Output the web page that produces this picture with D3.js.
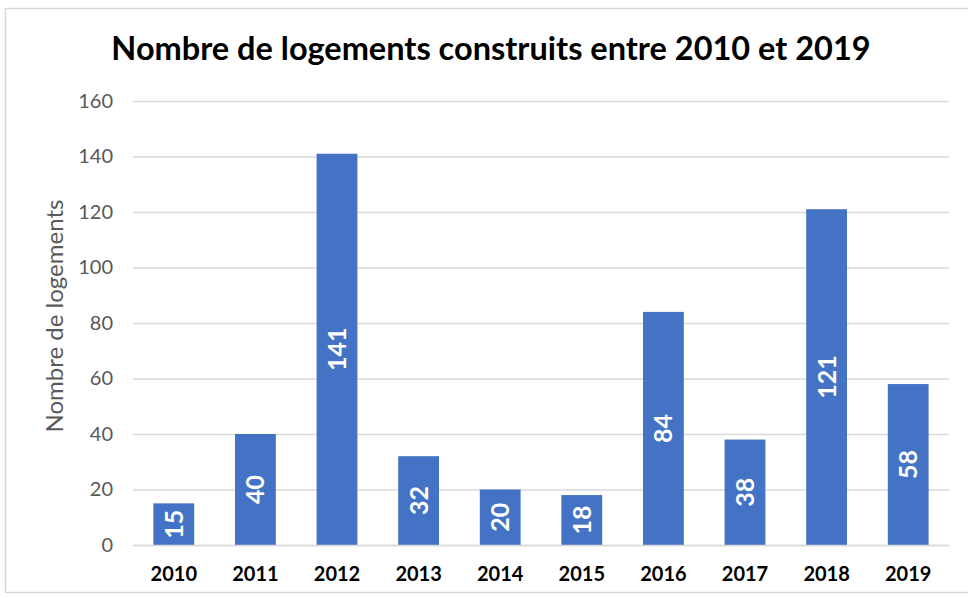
<!DOCTYPE html>
<html>
<head>
<meta charset="utf-8">
<script src="https://cdn.jsdelivr.net/npm/d3@7"></script>
<style>
  body { margin: 0; background: #fff; }
  svg { display: block; }
  svg text { font-family: Lato, "Open Sans", sans-serif; }
</style>
</head>
<body>
<svg id="chart"></svg>
<script>
// données
var years = ["2010", "2011", "2012", "2013", "2014", "2015", "2016", "2017", "2018", "2019"];
var logements = [15, 40, 141, 32, 20, 18, 84, 38, 121, 58];
var yTicks = [0, 20, 40, 60, 80, 100, 120, 140, 160];

var titre = "Nombre de logements construits entre 2010 et 2019";
var axeY = "Nombre de logements";

var width = 968, height = 598;
var margin = {top: 101, right: 19, bottom: 53, left: 133};

var svg = d3.select("#chart")
    .attr("width", width)
    .attr("height", height);

// cadre gris clair
svg.append("rect")
    .attr("x", 5.5).attr("y", 8.5)
    .attr("width", width + 10).attr("height", 584)
    .attr("fill", "none")
    .attr("stroke", "#d9d9d9")
    .attr("stroke-width", 1.5);

var data = years.map(function(y, i){ return {annee: y, valeur: logements[i]}; });

var x = d3.scaleBand()
    .domain(years)
    .range([margin.left, width - margin.right])
    .paddingInner(0.5)
    .paddingOuter(0.25);

var y = d3.scaleLinear()
    .domain([0, 160])
    .range([height - margin.bottom, margin.top]);

// grille
var yAxis = d3.axisLeft(y)
    .tickValues(yTicks)
    .tickSize(-(width - margin.left - margin.right))
    .tickPadding(20);

var gy = svg.append("g")
    .attr("transform", "translate(" + margin.left + ",0)")
    .call(yAxis)
    .attr("font-family", null);
gy.select(".domain").remove();
gy.selectAll(".tick line").attr("stroke", "#d9d9d9").attr("stroke-width", 1.5);
gy.selectAll(".tick text")
    .attr("fill", "#595959")
    .style("font-size", "20px");

// barres
svg.append("g").selectAll("rect")
    .data(data)
    .enter()
    .append("rect")
    .attr("x", function(d){ return x(d.annee); })
    .attr("y", function(d){ return y(d.valeur); })
    .attr("width", x.bandwidth())
    .attr("height", function(d){ return y(0) - y(d.valeur); })
    .attr("fill", "#4472c4");

// étiquettes de valeurs, tournées
svg.append("g").selectAll("text")
    .data(data)
    .enter()
    .append("text")
    .attr("transform", function(d){
        var cx = x(d.annee) + x.bandwidth() / 2;
        var cy = (y(d.valeur) + y(0)) / 2;
        return "translate(" + cx + "," + cy + ") rotate(-90)";
    })
    .attr("text-anchor", "middle")
    .attr("dy", "0.36em")
    .attr("fill", "#fff")
    .style("font-size", "25px")
    .style("font-weight", "bold")
    .text(function(d){ return d.valeur; });

// axe X
var gx = svg.append("g")
    .attr("transform", "translate(0," + (height - margin.bottom) + ")")
    .call(d3.axisBottom(x).tickSize(0).tickPadding(22))
    .attr("font-family", null);
gx.select(".domain").attr("stroke", "#d9d9d9").attr("stroke-width", 1.5);
gx.selectAll(".tick text")
    .attr("fill", "#000")
    .style("font-size", "20px")
    .style("font-weight", "bold");

// titre
svg.append("text")
    .attr("x", 491).attr("y", 60)
    .attr("text-anchor", "middle")
    .style("font-size", "32.5px")
    .style("font-weight", "bold")
    .attr("fill", "#000")
    .text(titre);

// titre axe Y
svg.append("text")
    .attr("transform", "translate(63," + ((margin.top + height - margin.bottom) / 2 - 7) + ") rotate(-90)")
    .attr("text-anchor", "middle")
    .attr("fill", "#595959")
    .style("font-size", "24px")
    .text(axeY);
</script>
</body>
</html>
